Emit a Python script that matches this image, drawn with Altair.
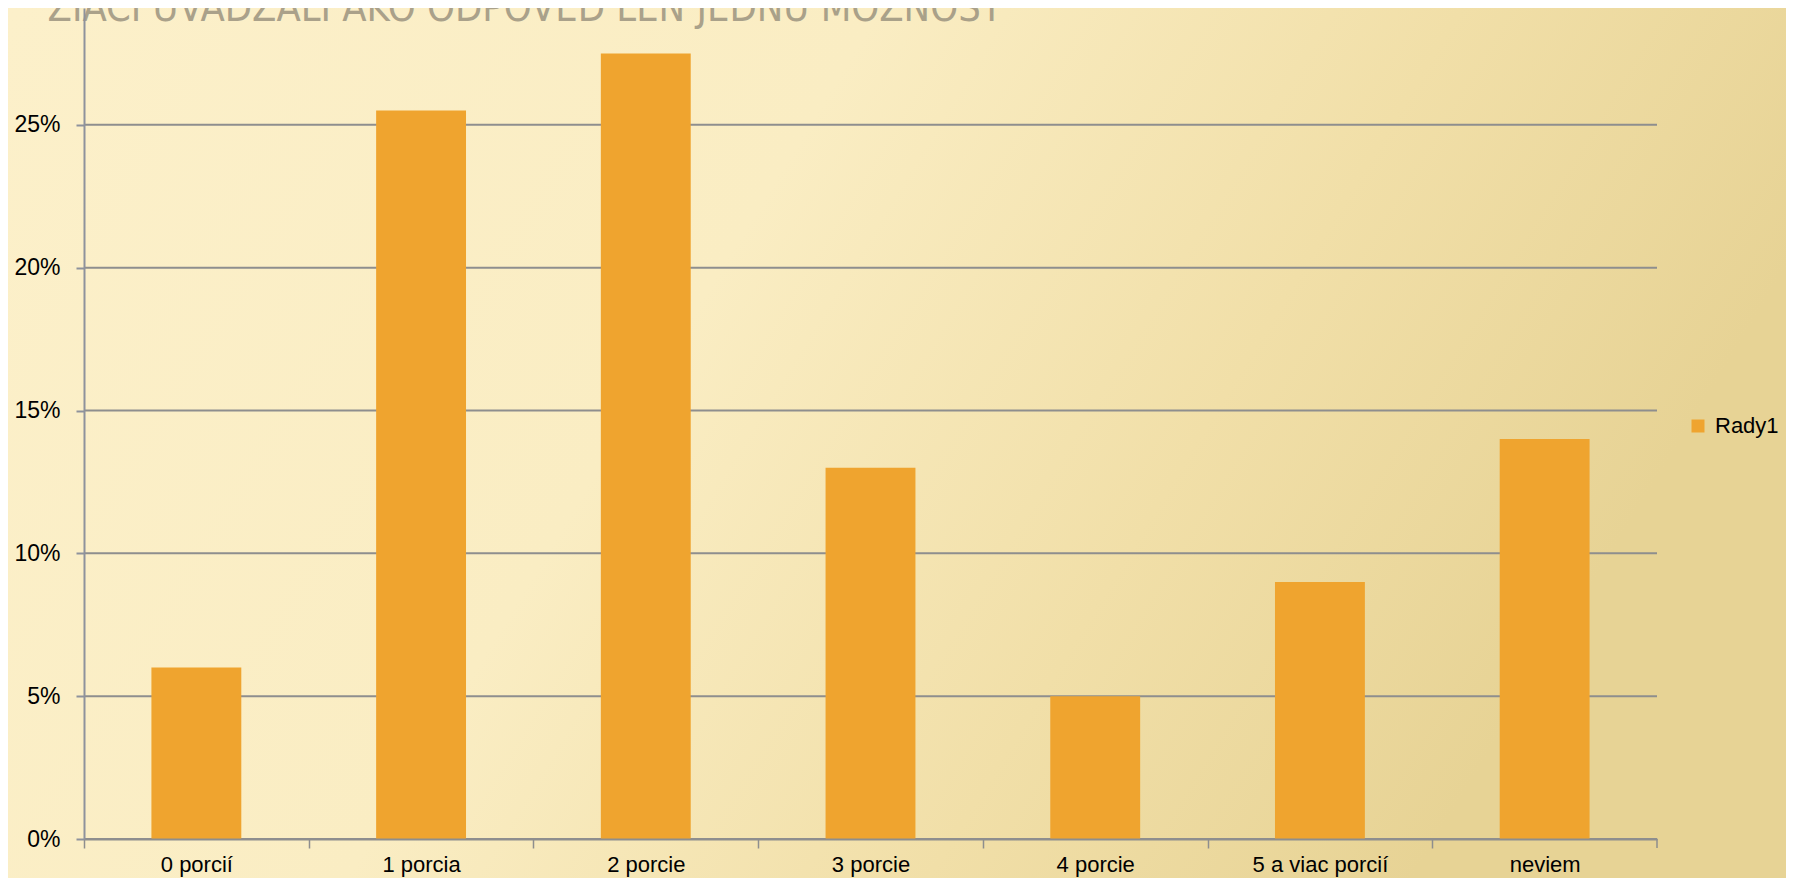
import altair as alt
import pandas as pd

# ---- data ----
categories = ["0 porcií", "1 porcia", "2 porcie", "3 porcie", "4 porcie", "5 a viac porcií", "neviem"]
values = [0.06, 0.255, 0.275, 0.13, 0.05, 0.09, 0.14]
series_name = "Rady1"
y_ticks = [0.0, 0.05, 0.10, 0.15, 0.20, 0.25]
title_text = "ŽIACI UVÁDZALI AKO ODPOVEĎ LEN JEDNU MOŽNOSŤ"

# ---- layout ----
W, H = 1573, 831
PAD_L, PAD_T, PAD_R, PAD_B = 76, 0, 129, 39
STEP = W / len(categories)

BAR = "#EFA42F"
GRID = "#8E8E8E"
AXIS = "#8E929C"
FONT = "Liberation Sans"

df = pd.DataFrame({"kategoria": categories, "podiel": values, "rad": [series_name] * len(categories)})
grid_df = pd.DataFrame({"t": y_ticks})
one = pd.DataFrame({"a": [0]})

x_scale = alt.Scale(domain=categories, paddingInner=0.6, paddingOuter=0.3)
y_scale = alt.Scale(domain=[0, 0.2909], nice=False, zero=True)

y_axis = alt.Axis(
    values=y_ticks, format=".0%", grid=False, labelFont=FONT, labelFontSize=23,
    labelColor="#000000", domainColor=AXIS, domainWidth=2, tickColor=AXIS,
    tickWidth=2, tickSize=8, labelPadding=16, zindex=1, title=None,
)

bg = alt.Chart(one).mark_rect(
    fill={
        "gradient": "linear",
        "x1": 0, "y1": 0, "x2": 1, "y2": 0.3,
        "stops": [
            {"offset": 0.0, "color": "#FCF0CA"},
            {"offset": 0.45, "color": "#FAEDC3"},
            {"offset": 0.75, "color": "#F1DFA8"},
            {"offset": 1.0, "color": "#E7D395"},
        ],
    }
).encode(
    x=alt.value(-PAD_L), x2=alt.value(W + PAD_R),
    y=alt.value(-PAD_T), y2=alt.value(H + PAD_B),
)

title_layer = alt.Chart(one).mark_text(
    text=title_text, font="Liberation Sans Narrow, DejaVu Sans Condensed, Liberation Sans",
    fontSize=39.5, color="#9C9480", opacity=0.85, align="center", baseline="alphabetic",
).encode(x=alt.value(441), y=alt.value(13))

grid = alt.Chart(grid_df).mark_rule(color=GRID, strokeWidth=2).encode(
    y=alt.Y("t:Q", scale=y_scale, axis=y_axis)
)

bars = alt.Chart(df).mark_bar(color=BAR).encode(
    x=alt.X(
        "kategoria:N", sort=categories, scale=x_scale, title=None,
        axis=alt.Axis(
            labelAngle=0, labelFont=FONT, labelFontSize=22, labelColor="#000000",
            domainColor=GRID, domainWidth=2, tickColor=GRID, tickWidth=1.5, tickSize=9,
            tickOffset=-STEP / 2, labelOffset=STEP / 2, labelPadding=6, zindex=1,
        ),
    ),
    y=alt.Y("podiel:Q", scale=y_scale, axis=y_axis),
    color=alt.Color(
        "rad:N", scale=alt.Scale(domain=[series_name], range=[BAR]),
        legend=alt.Legend(
            title=None, orient="none", legendX=1603, legendY=407, symbolType="square",
            symbolSize=169, symbolStrokeWidth=0, labelFont=FONT, labelFontSize=22,
            labelColor="#000000", labelOffset=6, padding=0,
        ),
    ),
)

end_tick = alt.Chart(one).mark_rule(color=GRID, strokeWidth=1.5).encode(
    x=alt.value(W), y=alt.value(H), y2=alt.value(H + 9)
)

chart = alt.layer(bg, grid, bars, end_tick, title_layer).properties(
    width=W, height=H,
    autosize=alt.AutoSizeParams(type="none"),
    padding={"left": PAD_L, "top": PAD_T, "right": PAD_R, "bottom": PAD_B},
    background="#F5E6B5",
).configure_view(stroke=None)

chart.save("out.html", embed_options={"renderer": "svg", "actions": False})
